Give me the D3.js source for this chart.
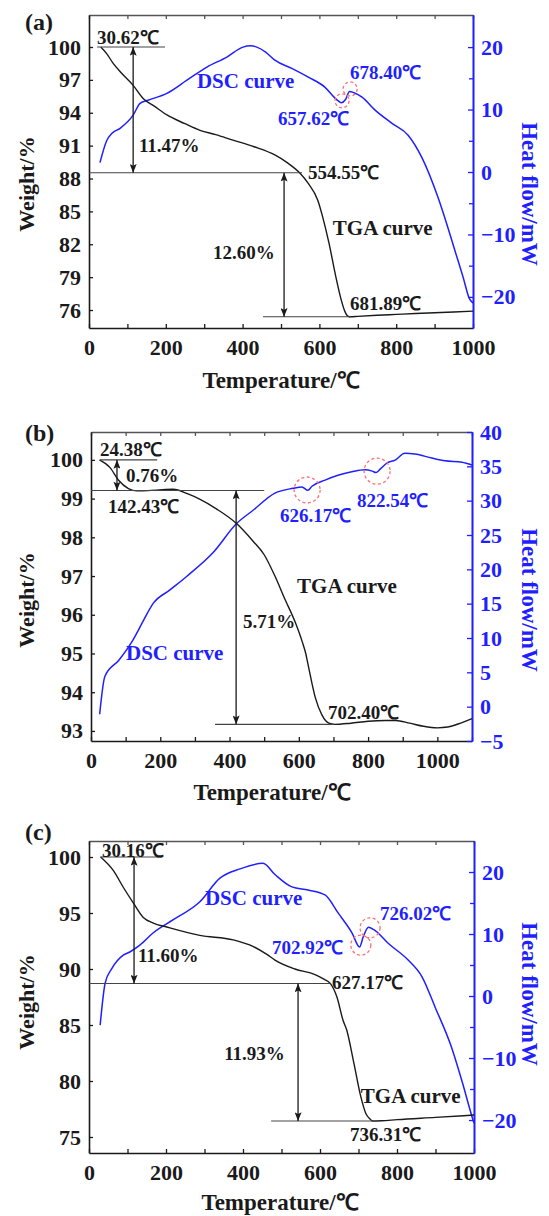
<!DOCTYPE html>
<html><head><meta charset="utf-8">
<script src="https://cdn.jsdelivr.net/npm/d3@7/dist/d3.min.js"></script>
<style>
body{margin:0;background:#fff}
svg{display:block}
</style>
</head><body>
<svg id="chart" width="549" height="1216"></svg>
<script>
// ---------------- DATA ----------------
// Panel (a)
const tgaA_T = [30.62, 46, 63, 85, 115, 141, 170, 203, 250, 289, 330, 375, 430, 484, 518, 549, 570, 596, 610, 625, 643, 657, 666, 674, 681.89, 700, 750, 800, 850, 900, 950, 1000];
const tgaA_W = [100, 99.4, 98.5, 97.6, 96.5, 95.3, 94.6, 93.8, 93.0, 92.4, 92.0, 91.5, 90.9, 90.15, 89.4, 88.5, 87.6, 86.0, 84.3, 82.1, 79.0, 76.9, 75.9, 75.45, 75.38, 75.42, 75.52, 75.6, 75.68, 75.75, 75.82, 75.9];
const dscA_T = [28.6, 46, 60, 81, 115, 133, 154, 203, 255, 307, 359, 401, 420, 437, 460, 484, 528, 571, 614, 645, 657.62, 668, 678.4, 690, 711, 745, 789, 831, 867, 909, 930, 953, 975, 990, 1000];
const dscA_H = [1.5, 5.0, 6.2, 7.0, 9.1, 11.0, 11.5, 12.6, 14.7, 16.8, 18.4, 20.0, 20.2, 20.0, 19.2, 17.9, 16.6, 15.2, 13.6, 11.6, 11.1, 11.6, 12.9, 12.7, 12.0, 9.9, 7.8, 5.9, 2.3, -4.1, -8.0, -12.6, -17.0, -20.2, -21.0];
const xTicksA = [0, 200, 400, 600, 800, 1000];
const wTicksA = [76, 79, 82, 85, 88, 91, 94, 97, 100];
const hTicksA = [-20, -10, 0, 10, 20];
const hMinorA = [-15, -5, 5, 15];

// Panel (b)
const tgaB_T = [24.38, 55, 79, 108, 133, 142.43, 190, 237, 280, 315, 363, 421, 468, 500, 531, 560, 590, 610, 620, 627, 647, 667, 687, 702.4, 750, 800, 850, 880, 920, 960, 1000, 1030, 1060, 1100];
const tgaB_W = [100, 99.8, 99.48, 99.26, 99.2, 99.2, 99.22, 99.24, 99.12, 98.98, 98.73, 98.35, 97.9, 97.55, 97.0, 96.4, 95.8, 95.3, 95.0, 94.7, 93.88, 93.41, 93.2, 93.17, 93.2, 93.25, 93.27, 93.27, 93.2, 93.12, 93.08, 93.1, 93.18, 93.32];
const dscB_T = [25, 40, 81, 121, 152, 179, 228, 277, 352, 421, 468, 531, 583, 609, 626.17, 638, 676, 713, 753, 791, 812, 822.54, 835, 855, 878, 906, 935, 984, 1022, 1071, 1100];
const dscB_H = [-1.1, 4.4, 6.8, 9.7, 12.6, 15.0, 17.0, 19.0, 22.4, 26.7, 28.6, 31.1, 31.8, 32.0, 31.5, 32.1, 33.0, 33.7, 34.2, 34.5, 34.3, 34.1, 34.6, 35.5, 35.9, 36.9, 36.8, 36.2, 35.8, 35.6, 35.2];
const xTicksB = [0, 200, 400, 600, 800, 1000];
const wTicksB = [93, 94, 95, 96, 97, 98, 99, 100];
const hTicksB = [-5, 0, 5, 10, 15, 20, 25, 30, 35, 40];
const hMinorB = [];

// Panel (c)
const tgaC_T = [30.16, 63, 89, 115, 141, 167, 202, 288, 375, 427, 462, 483, 535, 587, 610, 627.17, 644, 660, 669, 688, 706, 719, 730, 736.31, 760, 800, 900, 1000];
const tgaC_W = [100, 98.8, 97.3, 95.9, 94.6, 94.1, 93.75, 93.0, 92.6, 92.0, 91.3, 90.8, 90.0, 89.5, 89.1, 88.7, 87.5, 85.4, 84.6, 81.6, 78.6, 77.1, 76.6, 76.43, 76.45, 76.55, 76.75, 76.96];
const dscC_T = [29, 42, 60, 89, 106, 132, 167, 219, 288, 340, 392, 452, 483, 527, 569, 613, 647, 683, 702.92, 712, 726.02, 740, 777, 829, 865, 899, 940, 970, 995, 1000];
const dscC_H = [-4.7, 2.1, 4.5, 6.6, 7.1, 8.2, 10.2, 12.3, 15.2, 19.0, 20.5, 21.4, 19.6, 17.6, 17.1, 16.3, 13.4, 10.2, 7.9, 9.5, 11.1, 10.7, 8.5, 5.8, 3.1, -1.8, -8.0, -14.0, -19.5, -20.5];
const xTicksC = [0, 200, 400, 600, 800, 1000];
const wTicksC = [75, 80, 85, 90, 95, 100];
const hTicksC = [-20, -10, 0, 10, 20];
const hMinorC = [-15, -5, 5, 15];

// Annotations (data coordinates: T = temperature, W = weight, H = heat flow)
const annA = {
  texts: [
    {t: "30.62℃", T: 21, W: 100.91},
    {t: "11.47%", T: 130, W: 91.0},
    {t: "554.55℃", T: 570, W: 88.6},
    {t: "12.60%", T: 323, W: 81.3},
    {t: "TGA curve", T: 635, W: 83.5, big: true},
    {t: "681.89℃", T: 680, W: 76.6}
  ],
  blueTexts: [
    {t: "DSC curve", T: 281, H: 14.7, big: true},
    {t: "678.40℃", T: 680, H: 16.0},
    {t: "657.62℃", T: 492, H: 8.6}
  ],
  hlines: [{W: 100, T0: 21, T1: 198}, {W: 88.53, T0: 0, T1: 554.55}, {W: 75.38, T0: 453, T1: 681.89}],
  arrows: [{T: 115, W0: 100, W1: 88.53}, {T: 508, W0: 88.53, W1: 75.38}],
  circles: [{T: 659, H: 11.4, r: 7}, {T: 680, H: 13.3, r: 7}]
};
const annB = {
  texts: [
    {t: "24.38℃", T: 26, W: 100.28},
    {t: "0.76%", T: 101, W: 99.59},
    {t: "142.43℃", T: 49, W: 98.79},
    {t: "5.71%", T: 439, W: 95.84},
    {t: "TGA curve", T: 595, W: 96.75, big: true},
    {t: "702.40℃", T: 684, W: 93.49}
  ],
  blueTexts: [
    {t: "DSC curve", T: 101, H: 7.8, big: true},
    {t: "626.17℃", T: 546, H: 27.9},
    {t: "822.54℃", T: 768, H: 30.1}
  ],
  hlines: [{W: 100, T0: 26, T1: 191}, {W: 99.21, T0: 0, T1: 500}, {W: 93.17, T0: 358, T1: 702.4}],
  arrows: [{T: 75, W0: 100, W1: 99.21}, {T: 419, W0: 99.21, W1: 93.17}],
  circles: [{T: 624, H: 31.55, r: 13}, {T: 826, H: 34.3, r: 13}]
};
const annC = {
  texts: [
    {t: "30.16℃", T: 34, W: 100.63},
    {t: "11.60%", T: 127, W: 91.25},
    {t: "627.17℃", T: 631, W: 88.84},
    {t: "11.93%", T: 351, W: 82.5},
    {t: "TGA curve", T: 706, W: 78.66, big: true},
    {t: "736.31℃", T: 678, W: 75.2}
  ],
  blueTexts: [
    {t: "DSC curve", T: 301, H: 15.8, big: true},
    {t: "702.92℃", T: 475, H: 7.9},
    {t: "726.02℃", T: 756, H: 13.4}
  ],
  hlines: [{W: 100, T0: 29, T1: 190}, {W: 88.7, T0: 0, T1: 627.17}, {W: 76.43, T0: 473, T1: 736.31}],
  arrows: [{T: 117, W0: 100, W1: 88.7}, {T: 543, W0: 88.7, W1: 76.43}],
  circles: [{T: 706, H: 8.2, r: 10}, {T: 730, H: 11.0, r: 10}]
};

// ---------------- LAYOUT ----------------
const FONT = '"Liberation Serif","Times New Roman",serif';
const BLUE = "#1f1fff";
const BLACK = "#1a1a1a";

const panels = [
  {label: "(a)", labelY: 22, left: 89, right: 473, top: 15, bottom: 328,
   xDomain: [0, 1000], wDomain: [74.36, 102.92], hDomain: [-24.98, 25.14],
   xLabels: xTicksA, wTicks: wTicksA, hTicks: hTicksA, hMinor: hMinorA,
   tgaT: tgaA_T, tgaW: tgaA_W, dscT: dscA_T, dscH: dscA_H, ann: annA,
   wTitleY: 184, hTitleY: 194, xTitleX: 281, xTitleY: 380},
  {label: "(b)", labelY: 433, left: 91, right: 472, top: 432, bottom: 741,
   xDomain: [0, 1100], wDomain: [92.74, 100.72], hDomain: [-5, 40],
   xLabels: xTicksB, wTicks: wTicksB, hTicks: hTicksB, hMinor: hMinorB,
   tgaT: tgaB_T, tgaW: tgaB_W, dscT: dscB_T, dscH: dscB_H, ann: annB,
   wTitleY: 600, hTitleY: 600, xTitleX: 272, xTitleY: 792},
  {label: "(c)", labelY: 832, left: 89, right: 474, top: 841, bottom: 1153,
   xDomain: [0, 1000], wDomain: [73.57, 101.43], hDomain: [-25.32, 25.0],
   xLabels: xTicksC, wTicks: wTicksC, hTicks: hTicksC, hMinor: hMinorC,
   tgaT: tgaC_T, tgaW: tgaC_W, dscT: dscC_T, dscH: dscC_H, ann: annC,
   wTitleY: 1002, hTitleY: 994, xTitleX: 280, xTitleY: 1202}
];

const svg = d3.select("#chart");
svg.append("rect").attr("width", 549).attr("height", 1216).attr("fill", "#fff");

const defs = svg.append("defs");
defs.append("marker").attr("id", "ah")
  .attr("viewBox", "0 0 10 8").attr("refX", 10).attr("refY", 4)
  .attr("markerWidth", 9).attr("markerHeight", 7)
  .attr("markerUnits", "userSpaceOnUse")
  .attr("orient", "auto-start-reverse")
  .append("path").attr("d", "M0,0 L10,4 L0,8 L2,4 z").attr("fill", BLACK);

function styleAxis(g, color, size) {
  g.attr("font-family", null).attr("font-size", null);
  g.select(".domain").attr("stroke", color).attr("stroke-width", 1.6);
  g.selectAll(".tick line").attr("stroke", color).attr("stroke-width", 1.3);
  g.selectAll(".tick text").attr("fill", color)
    .style("font-family", FONT).style("font-weight", "bold").style("font-size", size + "px");
}

function drawPanel(p) {
  const g = svg.append("g");
  const x = d3.scaleLinear().domain(p.xDomain).range([p.left, p.right]);
  const yL = d3.scaleLinear().domain(p.wDomain).range([p.bottom, p.top]);
  const yR = d3.scaleLinear().domain(p.hDomain).range([p.bottom, p.top]);
  const xAll = d3.range(p.xDomain[0], p.xDomain[1] + 1, 100);

  // bottom axis
  const gb = g.append("g").attr("transform", `translate(0,${p.bottom})`)
    .call(d3.axisBottom(x).tickValues(xAll).tickSize(-4).tickSizeOuter(0).tickPadding(11)
      .tickFormat(d => p.xLabels.includes(d) ? d : ""));
  styleAxis(gb, BLACK, 22);
  // top axis
  const gt = g.append("g").attr("transform", `translate(0,${p.top})`)
    .call(d3.axisTop(x).tickValues(xAll).tickSize(-4).tickSizeOuter(0).tickFormat(""));
  styleAxis(gt, "#555", 22);
  // left axis
  const gl = g.append("g").attr("transform", `translate(${p.left},0)`)
    .call(d3.axisLeft(yL).tickValues(p.wTicks).tickSize(-4).tickSizeOuter(0).tickPadding(8).tickFormat(d3.format("d")));
  styleAxis(gl, BLACK, 22);
  // right axis (minor first, then major)
  const grm = g.append("g").attr("transform", `translate(${p.right},0)`)
    .call(d3.axisRight(yR).tickValues(p.hMinor).tickSize(-4).tickSizeOuter(0).tickFormat(""));
  styleAxis(grm, BLUE, 22);
  const gr = g.append("g").attr("transform", `translate(${p.right},0)`)
    .call(d3.axisRight(yR).tickValues(p.hTicks).tickSize(-5).tickSizeOuter(0).tickPadding(8).tickFormat(d3.format("d")));
  styleAxis(gr, BLUE, 22);

  // curves
  const tga = p.tgaT.map((t, i) => [t, p.tgaW[i]]);
  const dsc = p.dscT.map((t, i) => [t, p.dscH[i]]);
  g.append("path").datum(dsc).attr("fill", "none").attr("stroke", BLUE).attr("stroke-width", 1.5)
    .attr("d", d3.line().x(d => x(d[0])).y(d => yR(d[1])).curve(d3.curveMonotoneX));
  g.append("path").datum(tga).attr("fill", "none").attr("stroke", BLACK).attr("stroke-width", 1.4)
    .attr("d", d3.line().x(d => x(d[0])).y(d => yL(d[1])).curve(d3.curveMonotoneX));

  const a = p.ann;
  // horizontal reference lines
  g.selectAll(".hl").data(a.hlines).join("line")
    .attr("x1", d => x(d.T0)).attr("x2", d => x(d.T1))
    .attr("y1", d => yL(d.W)).attr("y2", d => yL(d.W))
    .attr("stroke", "#444").attr("stroke-width", 1.1);
  // double arrows
  g.selectAll(".ar").data(a.arrows).join("line")
    .attr("x1", d => x(d.T)).attr("x2", d => x(d.T))
    .attr("y1", d => yL(d.W0)).attr("y2", d => yL(d.W1))
    .attr("stroke", BLACK).attr("stroke-width", 1.3)
    .attr("marker-start", "url(#ah)").attr("marker-end", "url(#ah)");
  // dashed circles
  g.selectAll(".ci").data(a.circles).join("circle")
    .attr("cx", d => x(d.T)).attr("cy", d => yR(d.H)).attr("r", d => d.r)
    .attr("fill", "none").attr("stroke", "#ff6f6f").attr("stroke-width", 1.3)
    .attr("stroke-dasharray", "3,2.5");
  // texts
  g.selectAll(".tx").data(a.texts).join("text")
    .attr("x", d => x(d.T)).attr("y", d => yL(d.W)).attr("dy", "0.35em")
    .attr("fill", BLACK).style("font-family", FONT).style("font-weight", "bold")
    .style("font-size", d => d.big ? "21px" : "19px").text(d => d.t);
  g.selectAll(".bt").data(a.blueTexts).join("text")
    .attr("x", d => x(d.T)).attr("y", d => yR(d.H)).attr("dy", "0.35em")
    .attr("fill", BLUE).style("font-family", FONT).style("font-weight", "bold")
    .style("font-size", d => d.big ? "21px" : "19px").text(d => d.t);

  // panel label
  g.append("text").attr("x", 25).attr("y", p.labelY).attr("dy", "0.35em")
    .style("font-family", FONT).style("font-weight", "bold").style("font-size", "24px")
    .attr("fill", BLACK).text(p.label);
  // axis titles
  g.append("text").attr("transform", `translate(34,${p.wTitleY}) rotate(-90)`)
    .attr("text-anchor", "middle")
    .style("font-family", FONT).style("font-weight", "bold").style("font-size", "22px")
    .attr("fill", BLACK).text("Weight/%");
  g.append("text").attr("transform", `translate(522,${p.hTitleY}) rotate(90)`)
    .attr("text-anchor", "middle")
    .style("font-family", FONT).style("font-weight", "bold").style("font-size", "23px")
    .attr("fill", BLUE).text("Heat flow/mW");
  g.append("text").attr("x", p.xTitleX).attr("y", p.xTitleY).attr("dy", "0.35em")
    .attr("text-anchor", "middle")
    .style("font-family", FONT).style("font-weight", "bold").style("font-size", "23px")
    .attr("fill", BLACK).text("Temperature/℃");
}

panels.forEach(drawPanel);
</script>
</body></html>
